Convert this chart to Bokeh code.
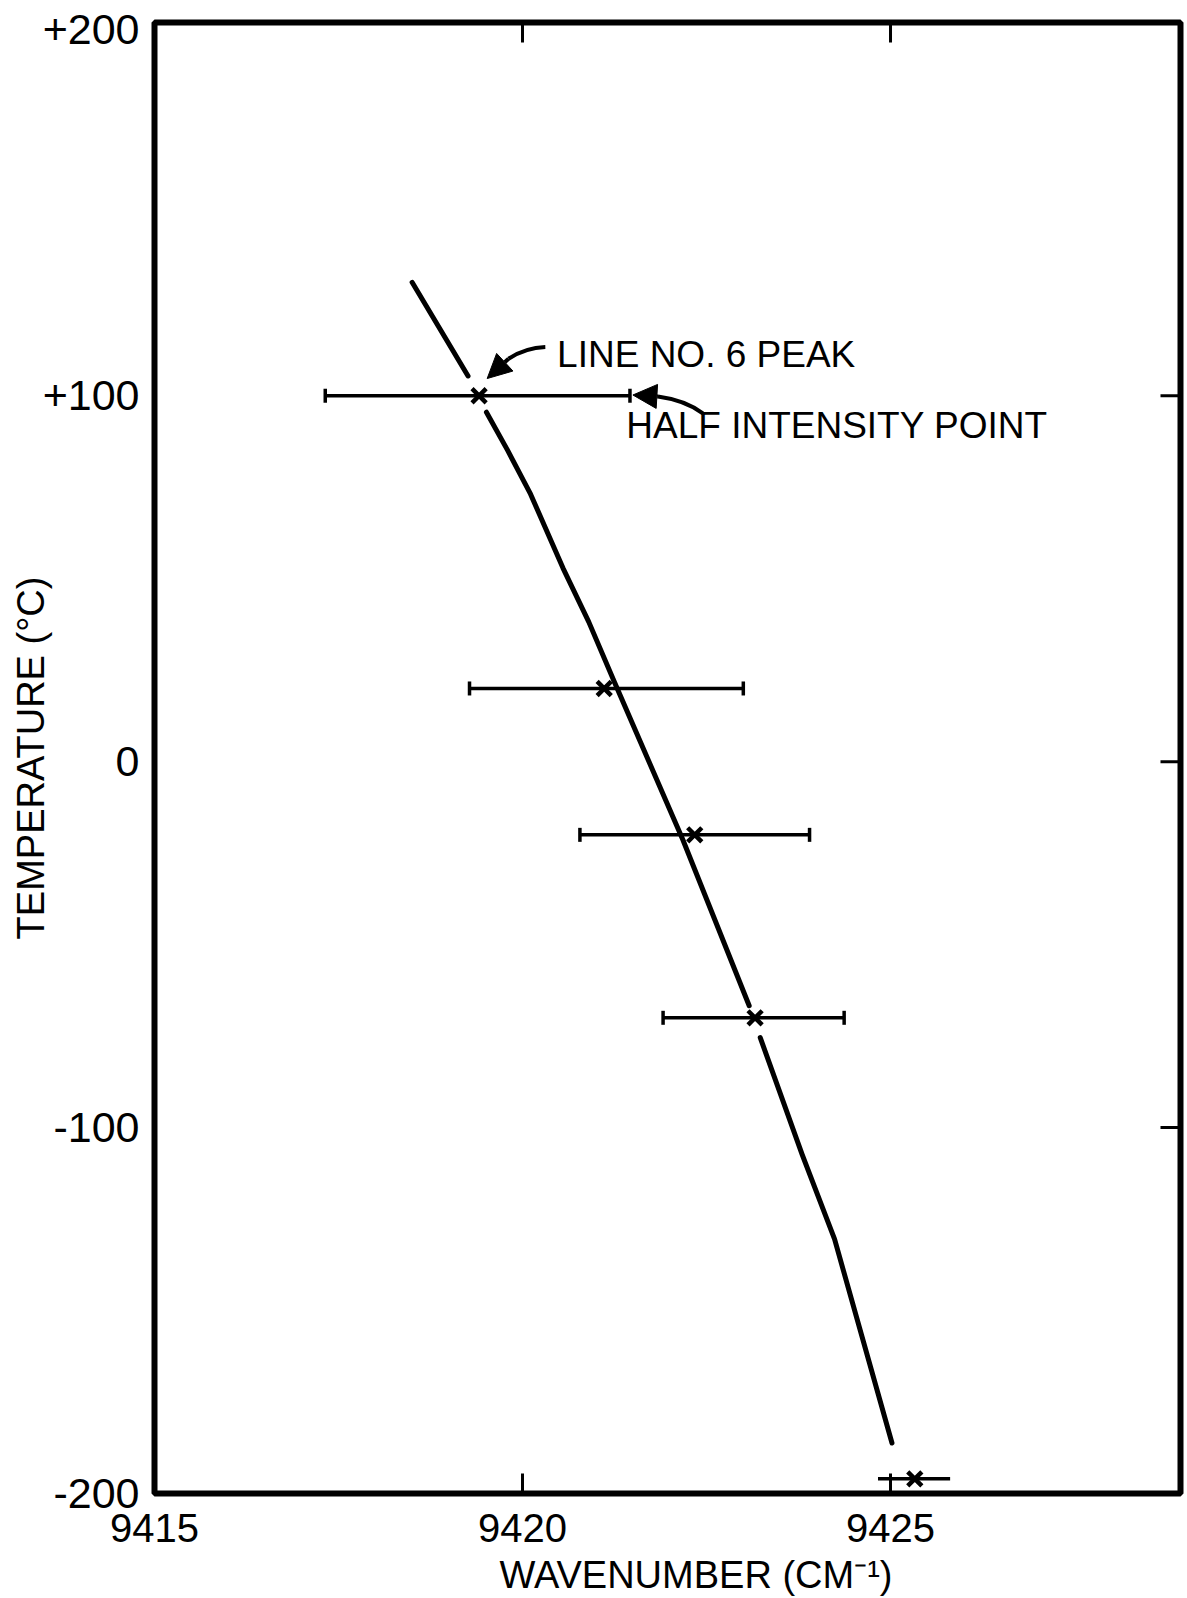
import math
from bokeh.plotting import figure
from bokeh.models import (ColumnDataSource, Whisker, TeeHead, FixedTicker,
                          Range1d, Label, Arrow, NormalHead, Title)
from bokeh.embed import file_html
from bokeh.resources import INLINE

NAN = float("nan")

# ---- data ----
wavenumber = [9419.41, 9421.11, 9422.34, 9423.16, 9425.33]      # peak (x markers)
temperature = [100, 20, -20, -70, -196]                          # deg C
half_low = [9417.32, 9419.28, 9420.78, 9421.91, 9424.83]         # half intensity points
half_high = [9421.46, 9423.00, 9423.90, 9424.37, 9425.81]

curve_wn = [9418.50, 9419.26, NAN,
            9419.51, 9419.80, 9420.11, 9420.55, 9420.90, 9421.25,
            9422.18, 9423.08, NAN,
            9423.23, 9423.80, 9424.24, 9425.02]
curve_t = [131.0, 105.4, NAN,
           95.5, 85.0, 73.1, 52.9, 38.2, 21.7,
           -21.4, -66.7, NAN,
           -75.4, -107.4, -130.5, -186.2]

x_ticks = [9415, 9420, 9425]
y_ticks = [200, 100, 0, -100, -200]
y_tick_labels = ["+200", "+100", "0", "-100", "-200"]
top_ticks = [9420, 9425]
right_ticks = [100, 0, -100]

X_RANGE = (9415, 9428.94)
Y_RANGE = (-200, 202)

# annotation anchors (data units): tail, control, head base, tip
peak_arrow = dict(tail=(9420.31, 113.3), ctrl=(9420.04, 113.1), base=(9419.81, 110.1), tip=(9419.52, 104.7))
half_arrow = dict(tail=(9422.45, 95.2), ctrl=(9422.21, 98.8), base=(9421.84, 99.8), tip=(9421.50, 100.2))
peak_text = ("LINE NO. 6  PEAK", 9420.47, 111.4)
half_text = ("HALF INTENSITY  POINT", 9421.41, 91.9)
X_TITLE = "WAVENUMBER (CM\u207b\u00b9)"
Y_TITLE = "TEMPERATURE (\u00b0C)"

FONT = "Liberation Sans"

p = figure(frame_width=1026, frame_height=1471,
           x_range=Range1d(*X_RANGE), y_range=Range1d(*Y_RANGE),
           output_backend="svg", toolbar_location=None,
           min_border_left=154, min_border_top=22, min_border_right=7, min_border_bottom=0,
           y_axis_label=Y_TITLE)
p.grid.visible = False
p.outline_line_color = "black"
p.outline_line_width = 6
p.background_fill_color = "white"
p.border_fill_color = "white"

# bottom axis
xa = p.xaxis[0]
xa.ticker = FixedTicker(ticks=x_ticks)
xa.major_tick_in = 20
xa.major_tick_out = 0
xa.major_tick_line_width = 3
xa.minor_tick_in = 0
xa.minor_tick_out = 0
xa.axis_line_color = None
xa.major_label_text_font = FONT
xa.major_label_text_font_size = "40px"
xa.major_label_text_color = "black"
xa.major_label_standoff = 20

# x title below the axis, shifted right as in the original
p.add_layout(Title(text=X_TITLE, align="left", offset=345, text_font=FONT,
                   text_font_size="38px", text_font_style="normal", text_color="black",
                   standoff=15), "below")

# left axis
ya = p.yaxis[0]
ya.ticker = FixedTicker(ticks=y_ticks)
ya.major_label_overrides = {t: s for t, s in zip(y_ticks, y_tick_labels)}
ya.major_tick_in = 0
ya.major_tick_out = 0
ya.minor_tick_in = 0
ya.minor_tick_out = 0
ya.axis_line_color = None
ya.major_label_text_font = FONT
ya.major_label_text_font_size = "43px"
ya.major_label_text_color = "black"
ya.major_label_standoff = 15
ya.major_label_orientation = "horizontal"
ya.axis_label_text_font = FONT
ya.axis_label_text_font_size = "38px"
ya.axis_label_text_font_style = "normal"
ya.axis_label_text_color = "black"
ya.axis_label_standoff = -12

# inner ticks on top and right frame edges (half of each dash is clipped by the frame)
p.scatter(x=top_ticks, y=[Y_RANGE[1]] * len(top_ticks), marker="dash", angle=math.pi / 2,
          size=40, line_width=3, line_color="black")
p.scatter(x=[X_RANGE[1]] * len(right_ticks), y=right_ticks, marker="dash",
          size=40, line_width=3, line_color="black")

# half-intensity bars
src = ColumnDataSource(dict(t=temperature[:4], lo=half_low[:4], hi=half_high[:4]))
w = Whisker(base="t", lower="lo", upper="hi", dimension="width", source=src,
            line_width=3.5, line_color="black",
            upper_head=TeeHead(size=14, line_width=3.5, line_color="black"),
            lower_head=TeeHead(size=14, line_width=3.5, line_color="black"))
p.add_layout(w)
p.segment(x0=half_low[4:], y0=temperature[4:], x1=half_high[4:], y1=temperature[4:],
          line_width=3.5, line_color="black")

# curve
p.line(curve_wn, curve_t, line_width=5, line_color="black", line_cap="round", line_join="round")

# peak markers
p.scatter(wavenumber, temperature, marker="x", size=20, line_width=4.5, line_color="black")

# annotations
for arr in (peak_arrow, half_arrow):
    p.quadratic(x0=[arr["tail"][0]], y0=[arr["tail"][1]], x1=[arr["base"][0]], y1=[arr["base"][1]],
                cx=[arr["ctrl"][0]], cy=[arr["ctrl"][1]], line_width=4, line_color="black")
    p.add_layout(Arrow(end=NormalHead(size=24, fill_color="black", line_color="black", line_width=1),
                       x_start=arr["base"][0], y_start=arr["base"][1],
                       x_end=arr["tip"][0], y_end=arr["tip"][1],
                       line_width=4, line_color="black"))

for txt, x, y in (peak_text, half_text):
    p.add_layout(Label(x=x, y=y, text=txt, text_font=FONT, text_font_size="37px",
                       text_baseline="middle", text_align="left", text_color="black"))

open("out.html", "w").write(file_html(p, INLINE))
